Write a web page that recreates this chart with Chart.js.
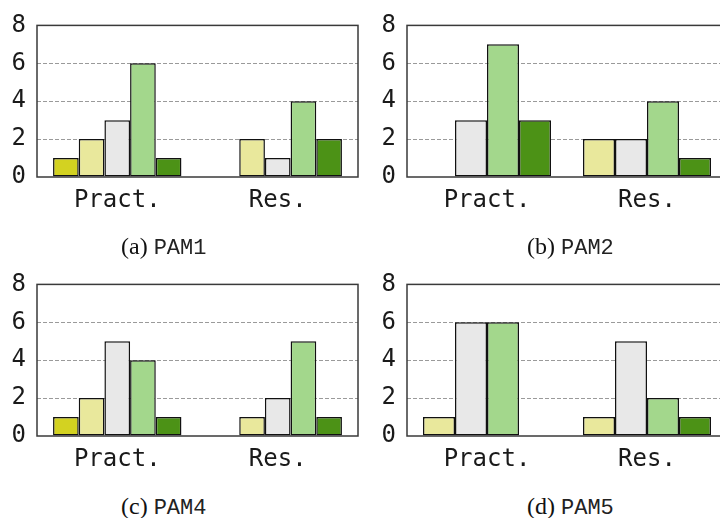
<!DOCTYPE html>
<html>
<head>
<meta charset="utf-8">
<script src="https://cdn.jsdelivr.net/npm/chart.js@4"></script>
<style>
  html, body { margin: 0; padding: 0; background: #fff; }
  body { position: relative; width: 720px; height: 518px; overflow: hidden; }
  canvas { position: absolute; }
  .cap { position: absolute; font-family: 'Liberation Serif', serif; font-size: 24px;
         line-height: 1; color: #111; white-space: nowrap; }
  .cap span { font-family: 'Liberation Mono', monospace; font-size: 22px; color: #222; }
</style>
</head>
<body>
<canvas id="pam1" width="360" height="230" style="left:0;top:0"></canvas>
<canvas id="pam2" width="372" height="230" style="left:360px;top:0"></canvas>
<canvas id="pam4" width="360" height="230" style="left:0;top:259px"></canvas>
<canvas id="pam5" width="372" height="230" style="left:360px;top:259px"></canvas>
<div class="cap" style="left:121px;top:234px">(a) <span>PAM1</span></div>
<div class="cap" style="left:527px;top:234px">(b) <span>PAM2</span></div>
<div class="cap" style="left:121px;top:494px">(c) <span>PAM4</span></div>
<div class="cap" style="left:527px;top:494px">(d) <span>PAM5</span></div>
<script>
// Groups on the x axis
const categories = ['Pract.', 'Res.'];
// Value axis ticks
const yTicks = [0, 2, 4, 6, 8];

// Answer levels and their fill colours
const levelNames = ['Level 1', 'Level 2', 'Level 3', 'Level 4', 'Level 5'];
const levelColors = ['#d3d221', '#e9e89c', '#e8e8e8', '#a3d78c', '#4c9216'];

// PAM1: counts per level (levels 1-5)
const pam1Levels = [0, 1, 2, 3, 4];
const pam1Pract = [1, 2, 3, 6, 1];
const pam1Res   = [0, 2, 1, 4, 2];

// PAM2: counts per level (levels 2-5)
const pam2Levels = [1, 2, 3, 4];
const pam2Pract = [0, 3, 7, 3];
const pam2Res   = [2, 2, 4, 1];

// PAM4: counts per level (levels 1-5)
const pam4Levels = [0, 1, 2, 3, 4];
const pam4Pract = [1, 2, 5, 4, 1];
const pam4Res   = [0, 1, 2, 5, 1];

// PAM5: counts per level (levels 2-5)
const pam5Levels = [1, 2, 3, 4];
const pam5Pract = [1, 6, 6, 0];
const pam5Res   = [1, 5, 2, 1];

const monoFont = { family: "'DejaVu Sans Mono', monospace", size: 24 };

// Solid box around the plotting area
const framePlugin = {
  id: 'frame',
  afterDatasetsDraw(chart) {
    const a = chart.chartArea, c = chart.ctx;
    c.save();
    c.strokeStyle = '#3a3a3a';
    c.lineWidth = 1.5;
    c.strokeRect(a.left, a.top, a.right - a.left, a.bottom - a.top);
    c.restore();
  }
};

function drawPanel(id, levels, pract, res, axisWidth, rightPad) {
  const datasets = levels.map((lv, i) => ({
    label: levelNames[lv],
    data: [pract[i], res[i]],
    backgroundColor: levelColors[lv],
    borderColor: '#111',
    borderWidth: 1.5,
    borderSkipped: false,
    categoryPercentage: 0.8,
    barPercentage: 1.0
  }));
  new Chart(document.getElementById(id), {
    type: 'bar',
    data: { labels: categories, datasets },
    plugins: [framePlugin],
    options: {
      responsive: false,
      animation: false,
      devicePixelRatio: 1,
      layout: { padding: { top: 17, right: rightPad, left: 0, bottom: 0 } },
      plugins: { legend: { display: false }, tooltip: { enabled: false } },
      scales: {
        x: {
          grid: { display: false },
          border: { display: false },
          ticks: { font: monoFont, color: '#1a1a1a', padding: 1 },
          afterFit: s => { s.height = 53; }
        },
        y: {
          min: 0,
          max: 8,
          afterBuildTicks: s => { s.ticks = yTicks.map(v => ({ value: v })); },
          grid: {
            drawTicks: false,
            lineWidth: 1,
            color: ctx => (ctx.tick && (ctx.tick.value === 0 || ctx.tick.value === 8))
              ? 'rgba(0,0,0,0)' : '#9a9a9a'
          },
          border: { display: false, dash: [4, 2] },
          ticks: { font: monoFont, color: '#1a1a1a', padding: 11 },
          afterFit: s => { s.width = axisWidth; }
        }
      }
    }
  });
}

drawPanel('pam1', pam1Levels, pam1Pract, pam1Res, 37, 2);
drawPanel('pam2', pam2Levels, pam2Pract, pam2Res, 47, 5);
drawPanel('pam4', pam4Levels, pam4Pract, pam4Res, 37, 2);
drawPanel('pam5', pam5Levels, pam5Pract, pam5Res, 47, 5);
</script>
</body>
</html>
